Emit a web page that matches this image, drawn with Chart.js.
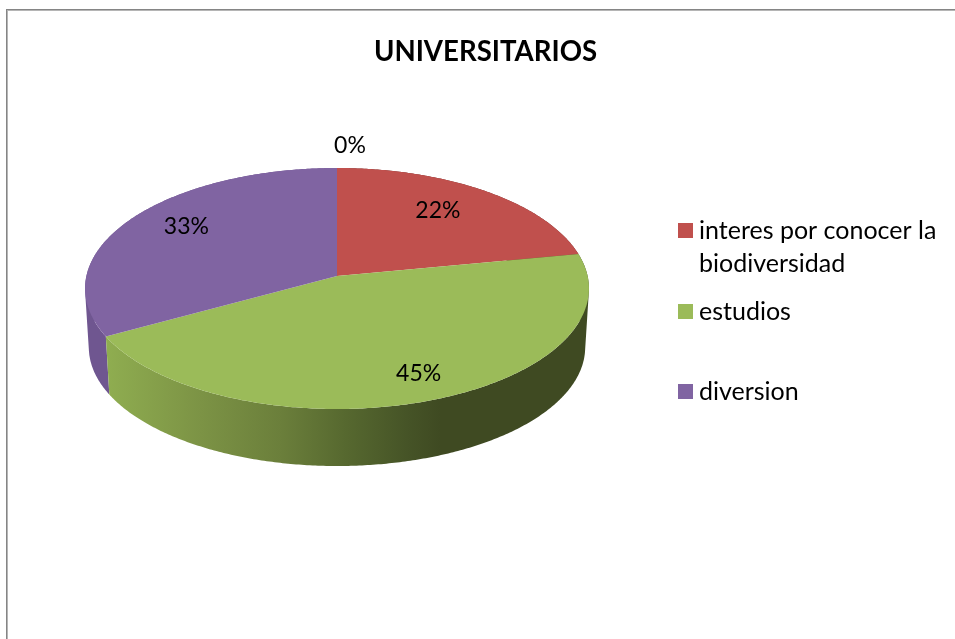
<!DOCTYPE html>
<html>
<head>
<meta charset="utf-8">
<style>html,body{margin:0;padding:0;background:#fff;overflow:hidden}canvas{display:block}</style>
<script src="https://cdn.jsdelivr.net/npm/chart.js@4"></script>
</head>
<body>
<canvas id="c" width="955" height="639"></canvas>
<script>
const titleText = 'UNIVERSITARIOS';
const categories = ['interes por conocer la biodiversidad', 'estudios', 'diversion', ''];
const values = [22, 45, 33, 0];
const faceColors = ['#C0504D', '#9BBB59', '#8064A2', '#4BACC6'];
const legendLines = [['interes por conocer la', 'biodiversidad'], ['estudios'], ['diversion']];

const FONT = 'Lato, Carlito, "Open Sans", sans-serif';
const persp = { k: 0.1037, squash: 0.4757, depth: 59, baseScale: 0.985 };
const labelPlace = [
  { r: 0.70, dx: -5, dy: -5 },
  { r: 0.82, dx: 6, dy: -2 },
  { r: 0.70, dx: -5, dy: -8 },
  { r: 1.13, dx: 13, dy: -10 }
];
const legendLayout = { x: 678, box: 15, textX: 699, textDy: 1, baselines: [238, 319, 399], lineGap: 33 };

function project(el, ang, r) {
  const u = r * Math.cos(ang), v = r * Math.sin(ang), w = 1 - persp.k * v;
  return [el.x + el.outerRadius * u / w, el.y + el.outerRadius * persp.squash * v / w];
}
function base(el, ang) {
  const p = project(el, ang, 1);
  return [el.x + (p[0] - el.x) * persp.baseScale, el.y + (p[1] - el.y) * persp.baseScale + persp.depth];
}
function sweep(ctx, el, a0, a1, fn, first) {
  const n = Math.max(2, Math.ceil(Math.abs(a1 - a0) / 0.01));
  for (let i = 0; i <= n; i++) {
    const a = a0 + (a1 - a0) * i / n, p = fn(el, a, 1);
    if (i === 0 && first) ctx.moveTo(p[0], p[1]); else ctx.lineTo(p[0], p[1]);
  }
}
function wallPath(ctx, el) {
  const n = Math.max(2, Math.ceil((el.endAngle - el.startAngle) / 0.01));
  for (let i = 0; i < n; i++) {
    const a0 = el.startAngle + (el.endAngle - el.startAngle) * i / n;
    const a1 = el.startAngle + (el.endAngle - el.startAngle) * (i + 1) / n;
    let q = [project(el, a0, 1), project(el, a1, 1), base(el, a1), base(el, a0)];
    const area = q.reduce((s, p, j) => { const r = q[(j + 1) % 4]; return s + p[0] * r[1] - r[0] * p[1]; }, 0);
    if (area < 0) q = q.reverse();
    q.forEach((p, j) => j ? ctx.lineTo(p[0], p[1]) : ctx.moveTo(p[0], p[1]));
    ctx.closePath();
  }
}
function wallFill(ctx, i) {
  if (i === 1) {
    const g = ctx.createLinearGradient(107, 0, 440, 0);
    g.addColorStop(0, '#8FAD50');
    g.addColorStop(0.28, '#7C9345');
    g.addColorStop(0.52, '#6B7F3B');
    g.addColorStop(0.72, '#56682F');
    g.addColorStop(0.9, '#465427');
    g.addColorStop(1, '#3F4A22');
    return g;
  }
  if (i === 2) return '#6F5690';
  return '#6E2F2D';
}
const pie3d = {
  id: 'pie3d',
  beforeDraw(chart) {
    const c = chart.ctx;
    c.save();
    c.fillStyle = '#fff'; c.fillRect(0, 0, chart.width, chart.height);
    c.fillStyle = '#858585'; c.fillRect(6, 9, chart.width - 6, 1); c.fillRect(6, 9, 1, chart.height - 9);
    c.fillStyle = '#b5b5b5'; c.fillRect(7, 10, chart.width - 7, 1); c.fillRect(7, 10, 1, chart.height - 10);
    c.restore();
  },
  beforeDatasetsDraw(chart) {
    const c = chart.ctx, arcs = chart.getDatasetMeta(0).data;
    c.save();
    [0, 2, 1].forEach(i => {
      const el = arcs[i];
      if (el.endAngle - el.startAngle <= 0) return;
      c.beginPath();
      wallPath(c, el);
      c.fillStyle = wallFill(c, i);
      c.fill();
    });
    arcs.forEach(el => {
      if (el.endAngle - el.startAngle <= 0) return;
      c.beginPath();
      c.moveTo(el.x, el.y);
      sweep(c, el, el.startAngle, el.endAngle, project, false);
      c.closePath();
      c.fillStyle = el.options.backgroundColor;
      c.fill();
    });
    c.fillStyle = '#000';
    c.font = '23px ' + FONT;
    c.textAlign = 'center';
    c.textBaseline = 'middle';
    const total = values.reduce((a, b) => a + b, 0);
    arcs.forEach((el, i) => {
      const mid = (el.startAngle + el.endAngle) / 2, pl = labelPlace[i];
      const p = project(el, mid, pl.r);
      c.fillText(Math.round(values[i] / total * 100) + '%', p[0] + pl.dx, p[1] + pl.dy);
    });
    c.restore();
    return false;
  },
  afterDraw(chart) {
    const c = chart.ctx, L = legendLayout;
    c.save();
    c.fillStyle = '#000';
    c.textBaseline = 'alphabetic';
    c.textAlign = 'center';
    c.font = 'bold 27.6px ' + FONT;
    c.fillText(titleText, 485.5, 61);
    c.textAlign = 'left';
    c.font = '25px ' + FONT;
    legendLines.forEach((lines, i) => {
      c.fillStyle = faceColors[i];
      c.fillRect(L.x, L.baselines[i] - L.box, L.box, L.box);
      c.fillStyle = '#000';
      lines.forEach((t, j) => c.fillText(t, L.textX, L.baselines[i] + L.textDy + j * L.lineGap));
    });
    c.restore();
  }
};
new Chart(document.getElementById('c'), {
  type: 'pie',
  data: { labels: categories, datasets: [{ data: values, backgroundColor: faceColors, borderWidth: 0 }] },
  options: {
    responsive: false,
    animation: false,
    layout: { padding: { left: 86.4, right: 367.4, top: 25.4, bottom: 112.4 } },
    plugins: { legend: { display: false }, title: { display: false }, tooltip: { enabled: false } }
  },
  plugins: [pie3d]
});
</script>
</body>
</html>
